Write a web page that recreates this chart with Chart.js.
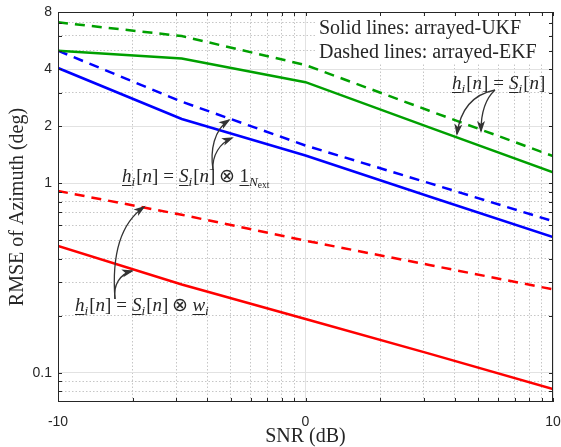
<!DOCTYPE html>
<html>
<head>
<meta charset="utf-8">
<script src="https://cdn.jsdelivr.net/npm/chart.js@4.4.1/dist/chart.umd.min.js"></script>
<style>
  html, body { margin: 0; padding: 0; background: #fff; }
  #wrap { width: 561px; height: 447px; }
</style>
</head>
<body>
<div id="wrap"><canvas id="myChart" width="561" height="447"></canvas></div>
<script>
// SNR points (dB)
const snrDb = [-10, -5, 0, 5, 10];

// RMSE of azimuth (deg), h = S
const ukfS = [5.0, 4.55, 3.41, 1.97, 1.14];
const ekfS = [7.06, 5.97, 4.2, 2.41, 1.39];
// h = S (x) 1_Next
const ukfExt = [4.05, 2.18, 1.40, 0.85, 0.52];
const ekfExt = [5.0, 2.69, 1.58, 1.0, 0.63];
// h = S (x) w
const ukfW = [0.466, 0.292, 0.192, 0.126, 0.082];
const ekfW = [0.909, 0.681, 0.497, 0.37, 0.275];

// tick positions
const xMajor = [-10, 0, 10];
const xMinor = [2, 3, 4, 5, 6, 7, 8, 9].map(k => 10 * Math.log10(k));
const xTicks = [-10, ...xMinor.map(v => v - 10), 0, ...xMinor, 10];
const yTicks = [0.08, 0.09, 0.1, 0.2, 0.3, 0.4, 0.5, 0.6, 0.7, 0.8, 0.9, 1, 2, 3, 4, 5, 6, 7, 8];
const yLabels = [0.1, 1, 2, 4, 8];

const GREEN = 'rgb(0,160,0)';
const BLUE = 'rgb(0,0,255)';
const RED = 'rgb(255,0,0)';
const DASH = [10, 7];

const isMajX = v => xMajor.some(m => Math.abs(m - v) < 1e-6);
const isMajY = v => yLabels.some(m => Math.abs(m - v) < 1e-9);

function pts(arr) {
  return snrDb.map((x, i) => ({ x: x, y: arr[i] }));
}

function line(arr, color, dashed) {
  return {
    data: pts(arr),
    borderColor: color,
    borderWidth: 2.5,
    borderDash: dashed ? DASH : [],
    pointRadius: 0,
    fill: false,
    tension: 0
  };
}

// math labels: list of pieces drawn one after another
function drawMath(ctx, x, y, parts, size) {
  let cx = x;
  ctx.fillStyle = '#262626';
  ctx.textBaseline = 'alphabetic';
  ctx.textAlign = 'left';
  for (const p of parts) {
    const s = size * (p.sc || 1);
    ctx.font = (p.it ? 'italic ' : '') + s + 'px "Liberation Serif"';
    const dy = (p.dy || 0) * size;
    cx += p.l || 0;
    const w = ctx.measureText(p.t).width;
    ctx.fillText(p.t, cx, y + dy);
    if (p.ul) ctx.fillRect(cx, y + dy + 3, w, 1);
    cx += w + (p.r || 0);
  }
}

const hPart = [
  { t: 'h', it: 1, ul: 1 }, { t: 'i', it: 1, sc: 0.7, dy: 0.22, r: 1 },
  { t: '[' }, { t: 'n', it: 1 }, { t: ']' },
  { t: '=', l: 5, r: 5 }
];
const sPart = [
  { t: 'S', it: 1, ul: 1 }, { t: 'i', it: 1, sc: 0.7, dy: 0.22, r: 1 },
  { t: '[' }, { t: 'n', it: 1 }, { t: ']' }
];
const mathS = [...hPart, ...sPart];
const mathExt = [...hPart, ...sPart, { t: '\u2297', l: 4, r: 4 },
  { t: '1', ul: 1 }, { t: 'N', it: 1, sc: 0.7, dy: 0.22 }, { t: 'ext', sc: 0.5, dy: 0.32 }];
const mathW = [...hPart, ...sPart, { t: '\u2297', l: 4, r: 4 },
  { t: 'w', it: 1, ul: 1 }, { t: 'i', it: 1, sc: 0.7, dy: 0.22 }];

function arrow(ctx, p) {
  const [x0, y0, c1x, c1y, c2x, c2y, x1, y1] = p;
  ctx.beginPath();
  ctx.moveTo(x0, y0);
  ctx.bezierCurveTo(c1x, c1y, c2x, c2y, x1, y1);
  ctx.stroke();
  const a = Math.atan2(y1 - c2y, x1 - c2x);
  const L = 10, W = 4;
  ctx.beginPath();
  ctx.moveTo(x1 + Math.cos(a) * 2, y1 + Math.sin(a) * 2);
  ctx.lineTo(x1 - Math.cos(a) * L + Math.sin(a) * W, y1 - Math.sin(a) * L - Math.cos(a) * W);
  ctx.lineTo(x1 - Math.cos(a) * (L - 3), y1 - Math.sin(a) * (L - 3));
  ctx.lineTo(x1 - Math.cos(a) * L - Math.sin(a) * W, y1 - Math.sin(a) * L + Math.cos(a) * W);
  ctx.closePath();
  ctx.fill();
}

const frame = {
  id: 'frame',
  afterDatasetsDraw(chart) {
    const { ctx, chartArea: a, scales } = chart;
    const xs = scales.x, ys = scales.y;
    ctx.save();

    // legend note
    ctx.fillStyle = '#fff';
    ctx.fillRect(316, 16, 235, 47);
    ctx.fillStyle = '#262626';
    ctx.font = '20px "Liberation Serif"';
    ctx.textBaseline = 'alphabetic';
    ctx.fillText('Solid lines: arrayed-UKF', 319, 34);
    ctx.fillText('Dashed lines: arrayed-EKF', 319, 58);

    // annotations
    drawMath(ctx, 452, 89, mathS, 19);
    drawMath(ctx, 122, 182, mathExt, 19);
    drawMath(ctx, 75, 311, mathW, 19);

    ctx.strokeStyle = '#333';
    ctx.fillStyle = '#333';
    ctx.lineWidth = 1.3;
    arrow(ctx, [495, 90, 470, 95, 460, 112, 457, 134]);
    arrow(ctx, [495, 90, 484, 100, 481, 115, 481, 131]);
    arrow(ctx, [213, 170, 210, 150, 214, 130, 229, 120]);
    arrow(ctx, [213, 170, 212, 155, 220, 143, 232, 138]);
    arrow(ctx, [115, 299, 113, 285, 120, 274, 132, 271]);
    arrow(ctx, [115, 299, 112, 260, 118, 225, 144, 207]);

    // box and inner ticks
    ctx.strokeStyle = '#262626';
    ctx.lineWidth = 1;
    ctx.strokeRect(Math.round(a.left) + 0.5, Math.round(a.top) + 0.5,
      Math.round(a.right - a.left) - 1, Math.round(a.bottom - a.top) - 1);
    ctx.beginPath();
    xTicks.forEach(v => {
      const px = Math.round(xs.getPixelForValue(v)) + 0.5;
      ctx.moveTo(px, a.bottom); ctx.lineTo(px, a.bottom - 4);
      ctx.moveTo(px, a.top); ctx.lineTo(px, a.top + 4);
    });
    yTicks.forEach(v => {
      const py = Math.round(ys.getPixelForValue(v)) + 0.5;
      ctx.moveTo(a.left, py); ctx.lineTo(a.left + 4, py);
      ctx.moveTo(a.right, py); ctx.lineTo(a.right - 4, py);
    });
    ctx.stroke();
    ctx.restore();
  }
};

const tickFont = { family: '"Liberation Sans", Arial, sans-serif', size: 14 };
const titleFont = { family: '"Liberation Serif", "Times New Roman", serif', size: 20, lineHeight: 1 };

const config = {
  type: 'line',
  data: {
    datasets: [
      line(ukfS, GREEN, false),
      line(ekfS, GREEN, true),
      line(ukfExt, BLUE, false),
      line(ekfExt, BLUE, true),
      line(ukfW, RED, false),
      line(ekfW, RED, true)
    ]
  },
  options: {
    responsive: false,
    animation: false,
    layout: { padding: { top: 12, right: 8, left: 0, bottom: 0 } },
    plugins: { legend: { display: false }, tooltip: { enabled: false } },
    scales: {
      x: {
        type: 'linear',
        min: -10,
        max: 10,
        afterBuildTicks: s => { s.ticks = xTicks.map(v => ({ value: v })); },
        afterFit: s => { s.height = 45; s.paddingLeft = 0; s.paddingRight = 0; },
        ticks: {
          autoSkip: false,
          maxRotation: 0,
          padding: 12,
          color: '#262626',
          font: tickFont,
          callback: v => isMajX(v) ? String(Math.round(v)) : ''
        },
        grid: {
          drawTicks: false,
          color: c => (c.tick && isMajX(c.tick.value)) ? '#e2e2e2' : '#c6c6c6'
        },
        border: {
          display: false,
          dash: c => (c.tick && !isMajX(c.tick.value)) ? [1.5, 2] : []
        },
        title: { display: true, text: 'SNR (dB)', color: '#262626', font: titleFont, padding: { top: 0, bottom: 0 } }
      },
      y: {
        type: 'logarithmic',
        min: 0.07,
        max: 8,
        afterBuildTicks: s => { s.ticks = yTicks.map(v => ({ value: v })); },
        afterFit: s => { s.width = 58; s.paddingTop = 0; s.paddingBottom = 0; },
        ticks: {
          autoSkip: false,
          padding: 6,
          color: '#262626',
          font: tickFont,
          callback: v => isMajY(v) ? String(v) : ''
        },
        grid: {
          drawTicks: false,
          color: c => (c.tick && isMajY(c.tick.value)) ? '#e2e2e2' : '#c6c6c6'
        },
        border: {
          display: false,
          dash: c => (c.tick && !isMajY(c.tick.value)) ? [1.5, 2] : []
        },
        title: { display: true, text: 'RMSE of Azimuth (deg)', color: '#262626', font: titleFont, padding: { top: 8, bottom: 0 } }
      }
    }
  },
  plugins: [frame]
};

const myChart = new Chart(document.getElementById('myChart'), config);
</script>
</body>
</html>
